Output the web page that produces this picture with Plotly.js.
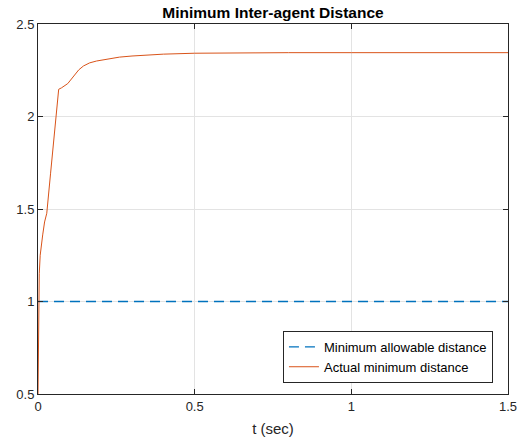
<!DOCTYPE html>
<html>
<head>
<meta charset="utf-8">
<script src="https://cdn.plot.ly/plotly-3.0.1.min.js"></script>
<style>html,body{margin:0;padding:0;background:#fff;}#chart{width:518px;height:445px;}</style>
</head>
<body>
<div id="chart"></div>
<script>
const tTime = [0, 0.001, 0.002, 0.004, 0.007, 0.01, 0.015, 0.021, 0.028, 0.04, 0.055, 0.066, 0.075, 0.083, 0.095, 0.104, 0.115, 0.13, 0.145, 0.165, 0.187, 0.22, 0.26, 0.3, 0.35, 0.4, 0.5, 0.6, 0.7, 0.8, 1.0, 1.2, 1.5];
const actualDist = [0.5, 0.8, 1.0, 1.15, 1.25, 1.3, 1.36, 1.43, 1.477, 1.69, 1.95, 2.147, 2.155, 2.163, 2.178, 2.197, 2.222, 2.252, 2.273, 2.29, 2.30, 2.311, 2.321, 2.327, 2.333, 2.337, 2.342, 2.344, 2.345, 2.345, 2.345, 2.345, 2.345];
const limitTime = [0, 1.5];
const limitDist = [1, 1];
const xTicks = [0, 0.5, 1, 1.5];
const xTickText = ['0', '0.5', '1', '1.5'];
const yTicks = [0.5, 1, 1.5, 2, 2.5];
const yTickText = ['0.5', '1', '1.5', '2', '2.5'];

const font = 'Liberation Sans, Arial, Helvetica, sans-serif';
const traces = [
  {x: limitTime, y: limitDist, mode: 'lines', name: 'Minimum allowable distance',
   line: {color: '#0072BD', width: 1.3, dash: '10px,6px'}},
  {x: tTime, y: actualDist, mode: 'lines', name: 'Actual minimum distance',
   line: {color: '#D95319', width: 1}}
];
const axisCommon = {
  showline: true, linecolor: '#262626', linewidth: 1, mirror: 'ticks',
  ticks: 'inside', ticklen: 5, tickcolor: '#262626', tickwidth: 1,
  showgrid: true, gridcolor: '#e3e3e3', gridwidth: 1, zeroline: false,
  tickfont: {family: font, size: 13, color: '#262626'}
};
const layout = {
  width: 518, height: 445,
  margin: {l: 38, r: 10, t: 24, b: 51},
  paper_bgcolor: '#fff', plot_bgcolor: '#fff',
  title: {text: '<b>Minimum Inter-agent Distance</b>', font: {family: font, size: 15.5, color: '#000'},
          x: 0.5, xref: 'paper', y: 1, yref: 'paper', yanchor: 'bottom', pad: {b: 6}},
  xaxis: Object.assign({}, axisCommon, {range: [0, 1.5], tickvals: xTicks, ticktext: xTickText,
          title: {text: 't (sec)', font: {family: font, size: 15, color: '#262626'}, standoff: 10}}),
  yaxis: Object.assign({}, axisCommon, {range: [0.5, 2.5], tickvals: yTicks, ticktext: yTickText}),
  showlegend: true,
  legend: {x: 0.968, xanchor: 'right', y: 0.03, yanchor: 'bottom',
           bgcolor: '#fff', bordercolor: '#262626', borderwidth: 1,
           font: {family: font, size: 13, color: '#000'}, tracegroupgap: 0,
           itemwidth: 30},
};
Plotly.newPlot('chart', traces, layout, {displayModeBar: false, staticPlot: true});
</script>
</body>
</html>
